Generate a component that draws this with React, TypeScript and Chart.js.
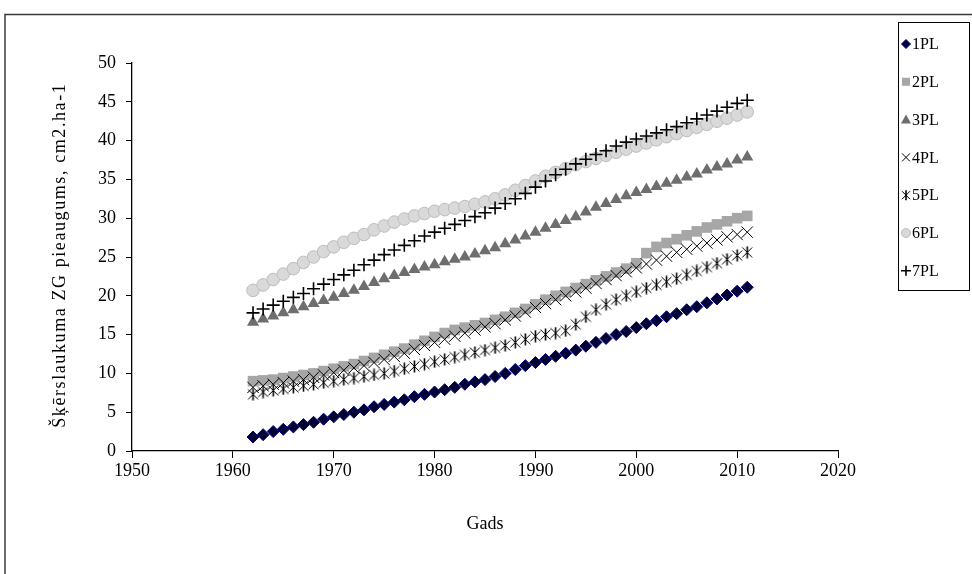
import React, { useEffect, useRef } from 'react';
import { Chart, registerables } from 'chart.js';

Chart.register(...registerables);

const years = [
  1962, 1963, 1964, 1965, 1966, 1967, 1968, 1969, 1970, 1971,
  1972, 1973, 1974, 1975, 1976, 1977, 1978, 1979, 1980, 1981,
  1982, 1983, 1984, 1985, 1986, 1987, 1988, 1989, 1990, 1991,
  1992, 1993, 1994, 1995, 1996, 1997, 1998, 1999, 2000, 2001,
  2002, 2003, 2004, 2005, 2006, 2007, 2008, 2009, 2010, 2011,
];

const pl1 = [
  1.8, 2.1, 2.5, 2.8, 3.1, 3.4, 3.7, 4.1, 4.4, 4.7,
  5.0, 5.3, 5.7, 6.0, 6.3, 6.6, 7.0, 7.3, 7.6, 7.9,
  8.2, 8.6, 8.9, 9.2, 9.6, 10.0, 10.5, 11.0, 11.4, 11.8,
  12.2, 12.6, 13.0, 13.5, 14.0, 14.5, 15.0, 15.4, 15.9, 16.4,
  16.8, 17.3, 17.7, 18.2, 18.6, 19.1, 19.6, 20.1, 20.6, 21.1,
];

const pl2 = [
  9.0, 9.1, 9.2, 9.4, 9.6, 9.8, 10.0, 10.3, 10.6, 10.9,
  11.2, 11.6, 12.0, 12.4, 12.8, 13.2, 13.7, 14.2, 14.7, 15.2,
  15.6, 15.9, 16.2, 16.5, 16.9, 17.3, 17.8, 18.3, 18.9, 19.5,
  20.0, 20.5, 21.0, 21.5, 22.0, 22.5, 23.0, 23.5, 24.2, 25.5,
  26.3, 26.8, 27.3, 27.8, 28.3, 28.8, 29.2, 29.6, 30.0, 30.3,
];

const pl3 = [
  16.6, 17.0, 17.4, 17.8, 18.2, 18.6, 19.0, 19.4, 19.8, 20.3,
  20.7, 21.2, 21.7, 22.2, 22.6, 23.0, 23.4, 23.7, 24.0, 24.4,
  24.7, 25.0, 25.4, 25.8, 26.2, 26.7, 27.2, 27.7, 28.2, 28.7,
  29.2, 29.7, 30.2, 30.8, 31.4, 31.9, 32.4, 32.9, 33.3, 33.7,
  34.1, 34.5, 34.9, 35.3, 35.7, 36.2, 36.6, 37.0, 37.5, 37.9,
];

const pl4 = [
  8.2, 8.4, 8.6, 8.8, 9.0, 9.2, 9.5, 9.8, 10.1, 10.4,
  10.7, 11.0, 11.4, 11.8, 12.2, 12.6, 13.1, 13.6, 14.0, 14.4,
  14.8, 15.2, 15.6, 16.0, 16.4, 16.9, 17.4, 17.9, 18.5, 19.0,
  19.5, 20.0, 20.5, 21.0, 21.6, 22.1, 22.6, 23.1, 23.6, 24.1,
  24.6, 25.1, 25.6, 26.0, 26.4, 26.8, 27.2, 27.6, 27.9, 28.2,
];

const pl5 = [
  7.3, 7.6, 7.8, 8.0, 8.2, 8.4, 8.6, 8.8, 9.0, 9.2,
  9.4, 9.6, 9.8, 10.0, 10.3, 10.6, 10.9, 11.2, 11.5, 11.8,
  12.1, 12.4, 12.7, 13.0, 13.3, 13.6, 14.0, 14.4, 14.8, 15.0,
  15.2, 15.5, 16.3, 17.3, 18.2, 18.9, 19.5, 20.0, 20.5, 21.0,
  21.4, 21.8, 22.2, 22.7, 23.2, 23.7, 24.2, 24.7, 25.2, 25.6,
];

const pl6 = [
  20.7, 21.4, 22.1, 22.8, 23.5, 24.3, 25.0, 25.7, 26.3, 26.9,
  27.4, 27.9, 28.5, 29.0, 29.5, 29.9, 30.3, 30.6, 30.9, 31.1,
  31.3, 31.5, 31.8, 32.1, 32.5, 33.0, 33.6, 34.2, 34.8, 35.4,
  35.9, 36.4, 36.9, 37.3, 37.7, 38.1, 38.5, 38.9, 39.3, 39.7,
  40.1, 40.5, 40.9, 41.3, 41.7, 42.1, 42.5, 42.9, 43.3, 43.7,
];

const pl7 = [
  17.8, 18.3, 18.8, 19.3, 19.8, 20.3, 20.9, 21.5, 22.1, 22.7,
  23.3, 24.0, 24.6, 25.3, 25.9, 26.5, 27.1, 27.7, 28.2, 28.7,
  29.2, 29.7, 30.2, 30.7, 31.3, 31.9, 32.5, 33.2, 34.0, 34.8,
  35.6, 36.3, 37.0, 37.6, 38.2, 38.7, 39.3, 39.8, 40.2, 40.6,
  41.0, 41.4, 41.8, 42.3, 42.8, 43.3, 43.8, 44.3, 44.8, 45.2,
];

const seriesNames = ['1PL', '2PL', '3PL', '4PL', '5PL', '6PL', '7PL'];
const xTicks = [1950, 1960, 1970, 1980, 1990, 2000, 2010, 2020];
const yTicks = [0, 5, 10, 15, 20, 25, 30, 35, 40, 45, 50];
const xTitle = 'Gads';
const yTitle = 'Šķērslaukuma ZG pieaugums, cm2.ha-1';

const FONT = '"Liberation Serif", "Times New Roman", serif';

function makeAsterisk(size: number): HTMLCanvasElement {
  const c = document.createElement('canvas');
  c.width = size;
  c.height = size;
  const g = c.getContext('2d')!;
  const m = size / 2;
  const r = size / 2 - 1.5;
  g.strokeStyle = '#000';
  g.lineWidth = 1;
  g.beginPath();
  g.moveTo(m - r, m - r);
  g.lineTo(m + r, m + r);
  g.moveTo(m + r, m - r);
  g.lineTo(m - r, m + r);
  g.stroke();
  g.lineWidth = 1.6;
  g.beginPath();
  g.moveTo(m, m - r - 1);
  g.lineTo(m, m + r + 1);
  g.stroke();
  return c;
}

function drawLegendMarker(ctx: CanvasRenderingContext2D, kind: number, x: number, y: number) {
  ctx.save();
  ctx.lineWidth = 1;
  ctx.strokeStyle = '#000';
  switch (kind) {
    case 0: {
      ctx.fillStyle = '#000040';
      ctx.strokeStyle = '#000080';
      ctx.beginPath();
      ctx.moveTo(x, y - 4.5);
      ctx.lineTo(x + 4.5, y);
      ctx.lineTo(x, y + 4.5);
      ctx.lineTo(x - 4.5, y);
      ctx.closePath();
      ctx.fill();
      ctx.stroke();
      break;
    }
    case 1:
      ctx.fillStyle = '#A6A6A6';
      ctx.fillRect(x - 4, y - 4, 8, 8);
      break;
    case 2:
      ctx.fillStyle = '#6E6E6E';
      ctx.beginPath();
      ctx.moveTo(x, y - 5);
      ctx.lineTo(x + 5, y + 4);
      ctx.lineTo(x - 5, y + 4);
      ctx.closePath();
      ctx.fill();
      break;
    case 3:
      ctx.beginPath();
      ctx.moveTo(x - 4, y - 4);
      ctx.lineTo(x + 4, y + 4);
      ctx.moveTo(x + 4, y - 4);
      ctx.lineTo(x - 4, y + 4);
      ctx.stroke();
      break;
    case 4:
      ctx.beginPath();
      ctx.moveTo(x - 4, y - 4);
      ctx.lineTo(x + 4, y + 4);
      ctx.moveTo(x + 4, y - 4);
      ctx.lineTo(x - 4, y + 4);
      ctx.stroke();
      ctx.lineWidth = 1.6;
      ctx.beginPath();
      ctx.moveTo(x, y - 5);
      ctx.lineTo(x, y + 5);
      ctx.stroke();
      break;
    case 5:
      ctx.fillStyle = '#D9D9D9';
      ctx.strokeStyle = '#BFBFBF';
      ctx.beginPath();
      ctx.arc(x, y, 4.5, 0, Math.PI * 2);
      ctx.fill();
      ctx.stroke();
      break;
    case 6:
      ctx.lineWidth = 1.6;
      ctx.beginPath();
      ctx.moveTo(x - 5, y);
      ctx.lineTo(x + 5, y);
      ctx.moveTo(x, y - 5);
      ctx.lineTo(x, y + 5);
      ctx.stroke();
      break;
  }
  ctx.restore();
}

const decorPlugin = {
  id: 'decor',
  beforeDraw(chart: any) {
    const ctx = chart.ctx as CanvasRenderingContext2D;
    ctx.save();
    ctx.fillStyle = '#fff';
    ctx.fillRect(0, 0, chart.width, chart.height);
    ctx.restore();
  },
  afterDraw(chart: any) {
    const ctx = chart.ctx as CanvasRenderingContext2D;
    ctx.save();
    // outer frame
    ctx.strokeStyle = '#3a3a3a';
    ctx.lineWidth = 1.5;
    ctx.beginPath();
    ctx.moveTo(5, chart.height);
    ctx.lineTo(5, 14.5);
    ctx.lineTo(chart.width, 14.5);
    ctx.stroke();

    // legend box
    ctx.strokeStyle = '#000';
    ctx.lineWidth = 1;
    ctx.strokeRect(898.5, 22.5, 71, 268);
    ctx.font = '16px ' + FONT;
    ctx.fillStyle = '#000';
    ctx.textBaseline = 'middle';
    ctx.textAlign = 'left';
    seriesNames.forEach((name, i) => {
      const y = 44 + i * 37.8;
      drawLegendMarker(ctx, i, 906, y);
      ctx.fillText(name, 912, y + 1);
    });

    // x title
    ctx.font = '18px ' + FONT;
    ctx.textAlign = 'center';
    ctx.fillText(xTitle, 485, 524);

    // y title
    ctx.translate(60, 256);
    ctx.rotate(-Math.PI / 2);
    const w = ctx.measureText(yTitle).width;
    const target = 345;
    const extra = Math.max(0, (target - w) / yTitle.length);
    (ctx as any).letterSpacing = extra.toFixed(2) + 'px';
    ctx.textAlign = 'center';
    ctx.fillText(yTitle, extra / 2, 0);
    ctx.restore();
  },
};

export default function App() {
  const ref = useRef<HTMLCanvasElement>(null);

  useEffect(() => {
    if (!ref.current) return;
    const asterisk = makeAsterisk(13);
    const mk = (arr: number[]) => years.map((x, i) => ({ x, y: arr[i] }));
    const chart = new Chart(ref.current, {
      type: 'scatter',
      data: {
        datasets: [
          {
            label: seriesNames[0], data: mk(pl1), order: 7,
            pointStyle: 'rectRot', pointRadius: 6, backgroundColor: '#000033', borderColor: '#000080', borderWidth: 1,
          },
          {
            label: seriesNames[1], data: mk(pl2), order: 6,
            pointStyle: 'rect', pointRadius: 7.5, backgroundColor: '#A6A6A6', borderColor: '#A6A6A6', borderWidth: 0,
          },
          {
            label: seriesNames[2], data: mk(pl3), order: 5,
            pointStyle: 'triangle', pointRadius: 7, backgroundColor: '#6E6E6E', borderColor: '#6E6E6E', borderWidth: 0,
          },
          {
            label: seriesNames[3], data: mk(pl4), order: 4,
            pointStyle: 'crossRot', pointRadius: 8, backgroundColor: '#000', borderColor: '#000', borderWidth: 1,
          },
          {
            label: seriesNames[4], data: mk(pl5), order: 3,
            pointStyle: asterisk as any, pointRadius: 6, backgroundColor: '#000', borderColor: '#000', borderWidth: 1,
          },
          {
            label: seriesNames[5], data: mk(pl6), order: 2,
            pointStyle: 'circle', pointRadius: 6.3, backgroundColor: '#D9D9D9', borderColor: '#BDBDBD', borderWidth: 1,
          },
          {
            label: seriesNames[6], data: mk(pl7), order: 1,
            pointStyle: 'cross', pointRadius: 6.5, backgroundColor: '#000', borderColor: '#000', borderWidth: 1.6,
          },
        ],
      },
      options: {
        responsive: false,
        animation: false,
        devicePixelRatio: 1,
        layout: { padding: { left: 0, top: 63, right: 134, bottom: 0 } },
        plugins: {
          legend: { display: false },
          tooltip: { enabled: false },
        },
        scales: {
          x: {
            type: 'linear',
            min: 1950,
            max: 2020,
            afterFit: (s: any) => { s.height = 123; },
            afterBuildTicks: (s: any) => { s.ticks = xTicks.map((v) => ({ value: v })); },
            grid: { drawOnChartArea: false, drawTicks: true, tickLength: 7, color: '#000' },
            border: { display: true, color: '#000', width: 1.3 },
            ticks: {
              color: '#000', font: { family: FONT, size: 18 }, padding: 2, maxRotation: 0,
              callback: (v: any) => String(v),
            },
          },
          y: {
            type: 'linear',
            min: 0,
            max: 50,
            afterFit: (s: any) => { s.width = 132; },
            afterBuildTicks: (s: any) => { s.ticks = yTicks.map((v) => ({ value: v })); },
            grid: { drawOnChartArea: false, drawTicks: true, tickLength: 6, color: '#000' },
            border: { display: true, color: '#000', width: 1.3 },
            ticks: {
              color: '#000', font: { family: FONT, size: 18 }, padding: 10,
              callback: (v: any) => String(v),
            },
          },
        },
      },
      plugins: [decorPlugin],
    });
    return () => chart.destroy();
  }, []);

  return (
    <div style={{ position: 'fixed', left: 0, top: 0, width: 972, height: 574, background: '#fff' }}>
      <canvas ref={ref} width={972} height={574} style={{ display: 'block' }} />
    </div>
  );
}
